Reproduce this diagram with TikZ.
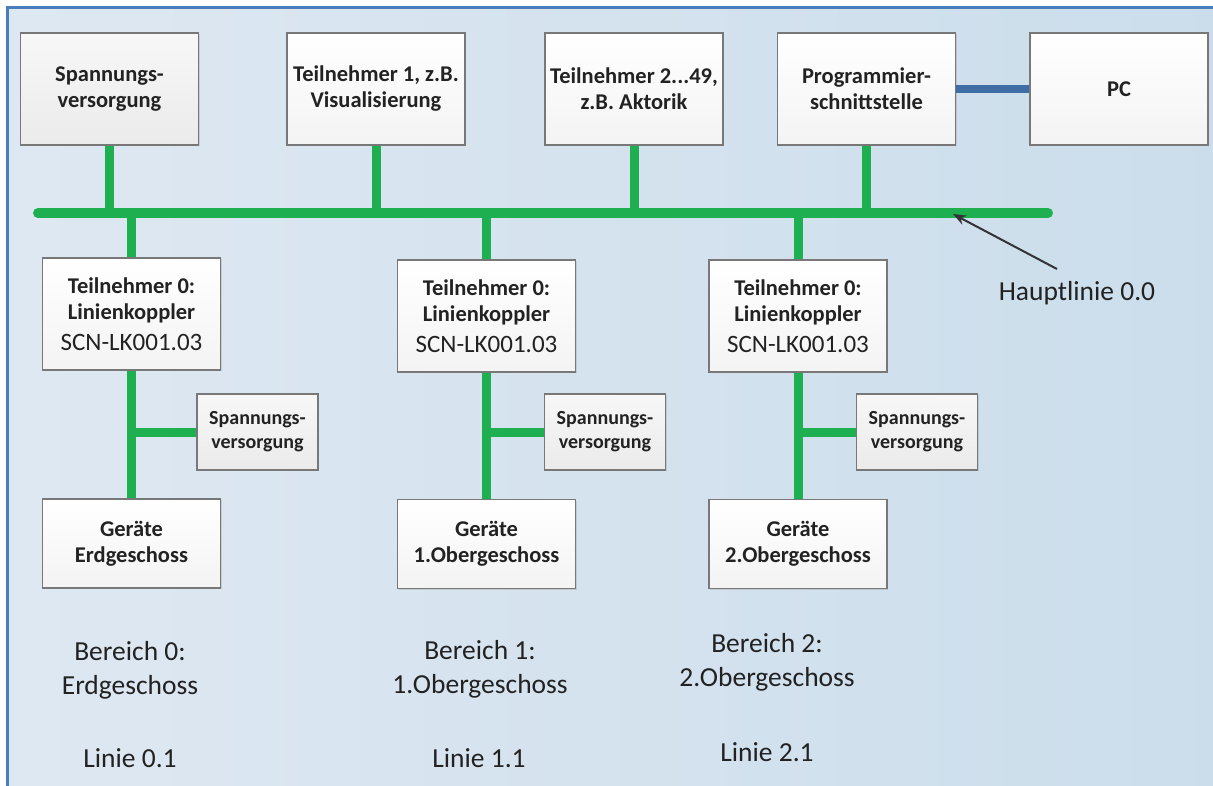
\documentclass[tikz,border=0pt]{standalone}
\usepackage{fontspec}
\setmainfont{Carlito}
\usetikzlibrary{arrows.meta,shadows}

\definecolor{busgreen}{RGB}{30,176,80}
\definecolor{pcblue}{RGB}{62,110,165}
\definecolor{frameblue}{RGB}{74,126,187}
\definecolor{bgleft}{RGB}{222,232,242}
\definecolor{bgright}{RGB}{203,221,235}
\definecolor{boxgray}{RGB}{120,120,120}
\definecolor{textgray}{RGB}{34,34,34}
\definecolor{arrowgray}{RGB}{50,50,55}

\newcommand\boxfnt{\fontsize{22.5}{26}\selectfont\bfseries}
\newcommand\smallfnt{\fontsize{20}{24}\selectfont\bfseries}
\newcommand\areafnt{\fontsize{27.5}{34}\selectfont}
\newcommand\typefnt{\fontsize{25}{28}\selectfont\mdseries}

\tikzset{
	unitbox/.style={draw=boxgray, line width=1.3pt, top color=white, bottom color=gray!9,
		text=textgray, align=center, font=\boxfnt, inner sep=0pt,
		minimum width=178, minimum height=112,
		drop shadow={opacity=0.25, shadow xshift=1.2pt, shadow yshift=-1.2pt}},
	devbox/.style={unitbox, minimum height=89},
	supplybox/.style={unitbox, top color=gray!6, bottom color=gray!16},
	smallbox/.style={supplybox, font=\smallfnt, minimum width=121, minimum height=76},
	areatext/.style={text=textgray, align=center, font=\areafnt, inner sep=0pt},
	bus/.style={busgreen, line width=10pt, line cap=round},
	drop/.style={busgreen, line width=9pt},
}

\begin{document}
\begin{tikzpicture}[x=1pt, y=-1pt]
	%%%%% START %%%%%
	\useasboundingbox (0,0) rectangle (1213,785);
	\shade[left color=bgleft, right color=bgright] (7.5,7.5) rectangle (1225,795);
	\draw[frameblue, line width=2.2pt] (7.5,795) -- (7.5,7.5) -- (1225,7.5);
	
	% top row
	\node[supplybox] (sv) at (109.5,89) {Spannungs-\\versorgung};
	\node[unitbox] (tn1) at (376,89) {Teilnehmer 1, z.B.\\Visualisierung};
	\node[unitbox] (tn2) at (634,89) {Teilnehmer 2...49,\\z.B. Aktorik};
	\node[unitbox] (prog) at (866.5,89) {Programmier-\\schnittstelle};
	\node[unitbox] (pc) at (1119,89) {PC};
	
	% main line
	\coordinate (busL) at (38,213);
	\coordinate (busR) at (1048,213);
	\coordinate (hlhit) at (953,214);
	\coordinate (hltail) at (1057,269);
	
	% line couplers
	\node[unitbox] (lk0) at (131.5,314) {Teilnehmer 0:\\Linienkoppler\\[5pt]{\typefnt SCN-LK001.03}};
	\node[unitbox] (lk1) at (486.5,316) {Teilnehmer 0:\\Linienkoppler\\[5pt]{\typefnt SCN-LK001.03}};
	\node[unitbox] (lk2) at (798,316) {Teilnehmer 0:\\Linienkoppler\\[5pt]{\typefnt SCN-LK001.03}};
	
	\node[smallbox] (sp0) at (257.5,432) {Spannungs-\\versorgung};
	\node[smallbox] (sp1) at (605,432) {Spannungs-\\versorgung};
	\node[smallbox] (sp2) at (917,432) {Spannungs-\\versorgung};
	
	\node[devbox] (ge0) at (131.5,543.5) {Geräte\\Erdgeschoss};
	\node[devbox] (ge1) at (486.5,544) {Geräte\\1.Obergeschoss};
	\node[devbox] (ge2) at (798,544) {Geräte\\2.Obergeschoss};
	
	% connectors
	\draw[bus] (busL) -- (busR);
	\draw[drop] (sv.south) -- (sv.south |- busL);
	\draw[drop] (tn1.south) -- (tn1.south |- busL);
	\draw[drop] (tn2.south) -- (tn2.south |- busL);
	\draw[drop] (prog.south) -- (prog.south |- busL);
	\draw[pcblue, line width=8pt] (prog.east) -- (pc.west);
	
	\draw[drop] (lk0.north |- busL) -- (lk0.north);
	\draw[drop] (lk1.north |- busL) -- (lk1.north);
	\draw[drop] (lk2.north |- busL) -- (lk2.north);
	
	\draw[drop] (lk0.south) -- (ge0.north);
	\draw[drop] (lk1.south) -- (ge1.north);
	\draw[drop] (lk2.south) -- (ge2.north);
	\draw[drop] (lk0.south |- sp0.west) -- (sp0.west);
	\draw[drop] (lk1.south |- sp1.west) -- (sp1.west);
	\draw[drop] (lk2.south |- sp2.west) -- (sp2.west);
	
	\node[areatext] (hl) at (1077,293) {Hauptlinie 0.0};
	\draw[arrowgray, line width=2pt, -{Stealth[length=13pt, width=10pt]}] (hltail) -- (hlhit);
	
	% areas
	\node[areatext] (b0) at (130,670) {Bereich 0:\\Erdgeschoss};
	\node[areatext] (b1) at (480,669.5) {Bereich 1:\\1.Obergeschoss};
	\node[areatext] (b2) at (767,662.5) {Bereich 2:\\2.Obergeschoss};
	\node[areatext] (l0) at (130,758) {Linie 0.1};
	\node[areatext] (l1) at (479,758) {Linie 1.1};
	\node[areatext] (l2) at (767,752) {Linie 2.1};
	%%%%% END %%%%%
\end{tikzpicture}
\end{document}
